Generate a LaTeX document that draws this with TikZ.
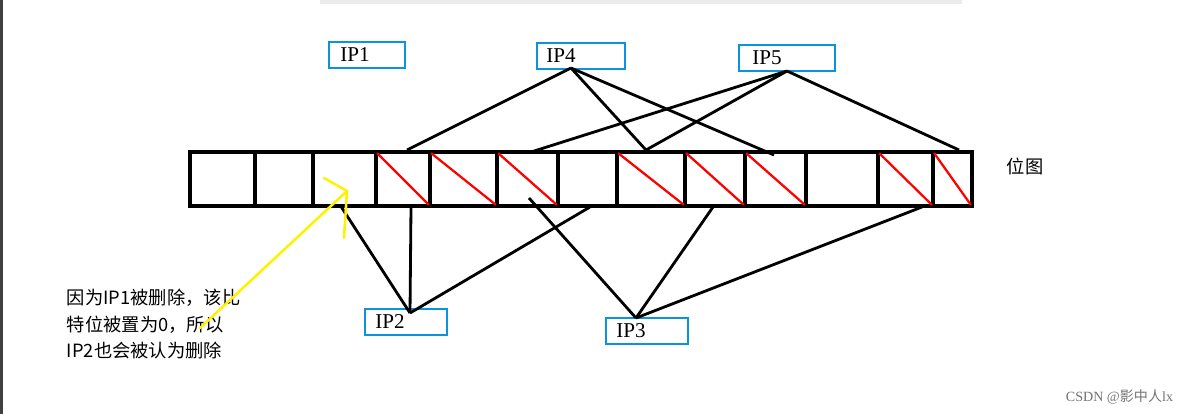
\documentclass[tikz,border=0pt]{standalone}
\usepackage{fontspec}
\setmainfont{Liberation Serif}
\newfontfamily\cjk{Noto Sans CJK SC}
\usetikzlibrary{positioning, arrows.meta}

\begin{document}
\begin{tikzpicture}[
		x=0.025cm, y=-0.025cm,
		cell/.style={draw, line width=2.4pt, rectangle, minimum height=1.35cm, inner sep=0pt},
		ipbox/.style={draw=cyan!80!blue, line width=2pt, rectangle, minimum height=0.65cm, inner sep=0pt, text=black, font=\fontsize{15}{16}\selectfont},
		link/.style={line width=2pt, black},
		slash/.style={red, line width=1.6pt},
		pointer/.style={yellow, line width=1.8pt, line cap=round},
	]
	\useasboundingbox (0,0) rectangle (1190,414);
	\fill[black!75] (0,0) rectangle (3,414);
	\fill[black!8] (320,0) rectangle (962,4);

	% bitmap cells
	\foreach \i/\x/\xx in {1/190/255, 2/255/313, 3/313/376, 4/376/430, 5/430/497, 6/497/558, 7/558/617,
		8/617/685, 9/685/745, 10/745/806, 11/806/878, 12/878/933, 13/933/972}
		\node[cell, minimum width={(\xx-\x)*0.025cm}] (c\i) at ({(\x+\xx)/2}, 179) {};
	\foreach \i in {4, 5, 6, 8, 9, 10, 12, 13}
		\draw[slash] ([xshift=2pt, yshift=-2pt]c\i.north west) -- ([xshift=-2pt, yshift=2pt]c\i.south east);
	\node[font=\cjk\fontsize{13}{14}\selectfont] (bitmap) at (1025,166) {位图};

	% keys
	\node[ipbox, minimum width=1.9cm] (ip1) at (367,55) {\hspace*{-0.6cm}IP1};
	\node[ipbox, minimum width=2.2cm] (ip4) at (581,56) {\hspace*{-1cm}IP4};
	\node[ipbox, minimum width=2.4cm] (ip5) at (787,58) {\hspace*{-1cm}IP5};
	\node[ipbox, minimum width=2.05cm] (ip2) at (406,322) {\hspace*{-0.8cm}IP2};
	\node[ipbox, minimum width=2.05cm] (ip3) at (647,331) {\hspace*{-0.8cm}IP3};

	\coordinate (ip4v) at (571,68);
	\coordinate (ip5v) at (787,71);
	\coordinate (ip2v) at (410,313);
	\coordinate (ip3v) at (636,318);

	\foreach \p in {(407,150), (646,150), (774,155)}
		\draw[link] (ip4v) -- \p;
	\foreach \p in {(531,152), (646,150), (959,150)}
		\draw[link] (ip5v) -- \p;
	\foreach \p in {(340,205), (411,207), (590,207)}
		\draw[link] (ip2v) -- \p;
	\foreach \p in {(529,198), (713,207), (922,207)}
		\draw[link] (ip3v) -- \p;

	% note
	\node[font=\cjk\fontsize{13}{19}\selectfont, align=left, anchor=north west] (note) at (62,284)
		{因为IP1被删除，该比\\特位被置为0，所以\\IP2也会被认为删除};
	\coordinate (tail) at (200,328);
	\coordinate (tip) at (347,191);
	\draw[pointer] (tail) -- (tip);
	\draw[pointer] (324,178) -- (tip) -- (344,238);

	\node[black!55, font=\fontsize{10}{11}\selectfont, anchor=east] (credit) at (1178,397) {CSDN @{\cjk 影中人}lx};
\end{tikzpicture}
\end{document}
